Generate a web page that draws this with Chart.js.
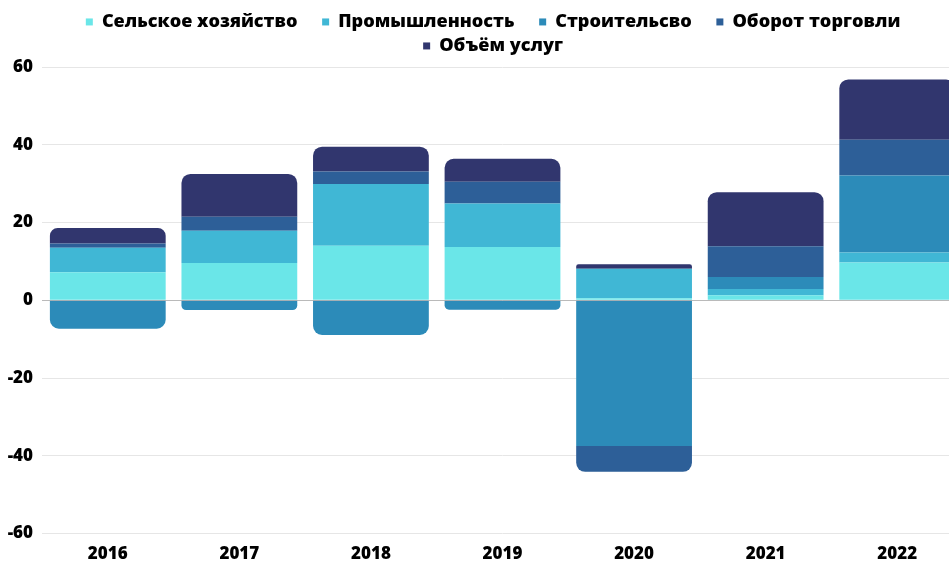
<!DOCTYPE html>
<html lang="ru">
<head>
<meta charset="utf-8">
<title>Вклад отраслей</title>
<script src="https://cdn.jsdelivr.net/npm/chart.js@4/dist/chart.umd.min.js"></script>
<style>
  html, body { margin: 0; padding: 0; background: #fff; overflow: hidden; }
  #wrap { width: 963px; height: 564px; }
</style>
</head>
<body>
<div id="wrap"><canvas id="chart"></canvas></div>
<script>
// Значения
const years = ['2016', '2017', '2018', '2019', '2020', '2021', '2022'];
const selskoe = [7.2, 9.6, 14.0, 13.7, 0.5, 1.3, 9.7];
const promyshl = [6.3, 8.3, 15.9, 11.2, 7.6, 1.6, 2.6];
const stroit = [-7.3, -2.5, -8.9, -2.4, -37.5, 3.1, 19.8];
const oborot = [1.1, 3.6, 3.2, 5.6, -6.6, 7.9, 9.2];
const obyom = [4.0, 11.0, 6.4, 5.9, 1.2, 13.9, 15.5];

const seriesNames = ['Сельское хозяйство', 'Промышленность', 'Строительсво', 'Оборот торговли', 'Объём услуг'];
const seriesColors = ['#6ae6e8', '#40b7d5', '#2c8bb9', '#2d5f98', '#31366e'];
const seriesData = [selskoe, promyshl, stroit, oborot, obyom];

const font = "'Open Sans', 'DejaVu Sans', sans-serif";

// линия нуля поверх столбиков
const zeroLine = {
    id: 'zeroLine',
    afterDatasetsDraw(chart) {
        const { ctx, chartArea, scales } = chart;
        const py = Math.round(scales.y.getPixelForValue(0)) + 0.5;
        ctx.save();
        ctx.strokeStyle = 'rgba(150, 150, 150, 0.55)';
        ctx.lineWidth = 1;
        ctx.beginPath();
        ctx.moveTo(chartArea.left, py);
        ctx.lineTo(chartArea.right, py);
        ctx.stroke();
        ctx.restore();
    }
};

const ctx = document.getElementById('chart').getContext('2d');
const chart = new Chart(ctx, {
    type: 'bar',
    data: {
        labels: years,
        datasets: seriesNames.map((name, i) => ({
            label: name,
            data: seriesData[i],
            backgroundColor: seriesColors[i],
            borderRadius: 9,
            borderSkipped: 'start',
            barPercentage: 0.88,
            categoryPercentage: 1
        }))
    },
    options: {
        responsive: true,
        maintainAspectRatio: false,
        animation: false,
        layout: { padding: { top: 7, left: 0, right: 0, bottom: 0 } },
        plugins: {
            tooltip: { enabled: false },
            legend: {
                position: 'top',
                fullSize: false,
                labels: {
                    boxWidth: 7,
                    boxHeight: 7,
                    padding: 5.9,
                    color: '#000',
                    font: { family: font, size: 18.1, weight: 800 },
                    generateLabels(chart) {
                        const items = Chart.defaults.plugins.legend.labels.generateLabels(chart);
                        items.forEach(item => { item.text += '    '; });
                        return items;
                    }
                }
            },
            // пустой отступ между легендой и графиком
            subtitle: {
                display: true,
                text: '',
                position: 'top',
                weight: 500,
                padding: 0,
                font: { size: 2, lineHeight: 1 }
            }
        },
        scales: {
            x: {
                stacked: true,
                grid: { display: false, drawTicks: true, tickLength: 10 },
                border: { display: false },
                ticks: {
                    color: '#000',
                    padding: 0,
                    font: { family: font, size: 17, weight: 800 }
                }
            },
            y: {
                stacked: true,
                min: -60,
                max: 60,
                afterFit(scale) { scale.width = 42; },
                border: { display: false },
                grid: { color: '#e6e6e6', drawTicks: false },
                ticks: {
                    stepSize: 20,
                    padding: 9,
                    color: '#000',
                    font: { family: font, size: 17, weight: 800 }
                }
            }
        }
    },
    plugins: [zeroLine]
});
</script>
</body>
</html>
